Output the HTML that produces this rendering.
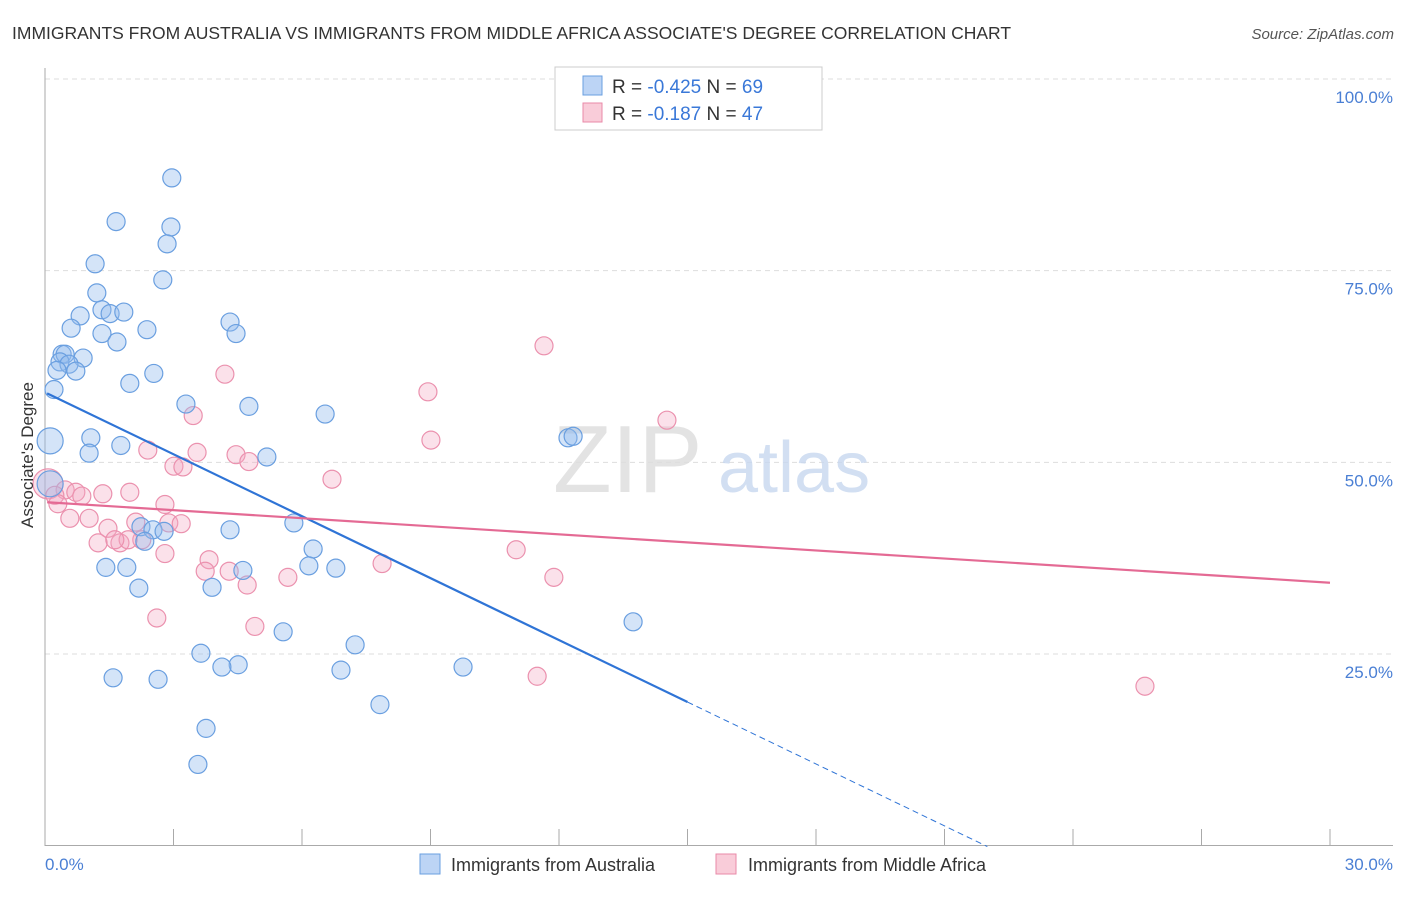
<!DOCTYPE html>
<html><head><meta charset="utf-8"><style>
body{margin:0;background:#fff;font-family:"Liberation Sans",sans-serif;}
svg text{font-family:"Liberation Sans",sans-serif;}
</style></head><body>
<svg id="chart" width="1406" height="892" xmlns="http://www.w3.org/2000/svg">
<text x="12" y="39" font-size="17.5" fill="#333">IMMIGRANTS FROM AUSTRALIA VS IMMIGRANTS FROM MIDDLE AFRICA ASSOCIATE'S DEGREE CORRELATION CHART</text>
<text x="1394" y="39" font-size="15" fill="#555" text-anchor="end" font-style="italic">Source: ZipAtlas.com</text>
<g id="grid"></g>
<text x="553" y="492" font-size="96" fill="#ddd" font-family="Liberation Serif" opacity="0.8">ZIP</text>
<text x="718" y="492" font-size="72" fill="#c8d8f0" opacity="0.8">atlas</text>
<g id="points"></g>
<g id="lines"></g>
<text transform="translate(33,455) rotate(-90)" font-size="17" fill="#333" text-anchor="middle">Associate's Degree</text>
<text x="45" y="870" font-size="17" fill="#4a7fd4">0.0%</text>
<text x="1393" y="870" font-size="17" fill="#4a7fd4" text-anchor="end">30.0%</text>
<g>
<rect x="555" y="67" width="267" height="63" fill="#fff" stroke="#ccc"/>
<rect x="583" y="76" width="19" height="19" fill="#bcd4f5" stroke="#6a9fe0"/>
<rect x="583" y="103" width="19" height="19" fill="#f9ccd9" stroke="#e98aa8"/>
<text x="612" y="93" font-size="19" fill="#333">R = <tspan fill="#3a78d8">-0.425</tspan>   N = <tspan fill="#3a78d8">69</tspan></text>
<text x="612" y="120" font-size="19" fill="#333">R =  <tspan fill="#3a78d8">-0.187</tspan>   N = <tspan fill="#3a78d8">47</tspan></text>
</g>
<g>
<rect x="420" y="854" width="20" height="20" fill="#bcd4f5" stroke="#6a9fe0"/>
<text x="451" y="871" font-size="18" fill="#333">Immigrants from Australia</text>
<rect x="716" y="854" width="20" height="20" fill="#f9ccd9" stroke="#e98aa8"/>
<text x="748" y="871" font-size="18" fill="#333">Immigrants from Middle Africa</text>
</g>
</svg>
<script>
const yTicks=[25,50,75,100];
const yTickLabels=["25.0%","50.0%","75.0%","100.0%"];
const xTicks=[0,3,6,9,12,15,18,21,24,27,30];
const blueX=[2.96,1.66,2.94,2.85,1.17,2.75,1.21,1.33,0.82,1.52,1.84,0.61,2.38,4.32,4.46,1.33,1.68,0.40,0.47,0.35,0.89,0.56,0.72,0.28,2.54,1.98,0.21,3.29,4.76,6.54,12.21,12.33,0.12,1.07,1.77,1.03,5.18,2.24,2.52,2.78,2.33,4.32,5.81,6.26,1.42,1.91,6.16,6.79,4.62,3.90,2.19,13.73,5.56,7.24,3.64,4.51,4.13,6.91,9.76,1.59,2.64,7.82,3.76,3.57,0.12];
const blueY=[87.1,81.4,80.7,78.5,75.9,73.8,72.1,69.9,69.1,69.4,69.6,67.5,67.3,68.3,66.8,66.8,65.7,64.1,64.1,63.1,63.6,62.8,61.9,62.0,61.6,60.3,59.5,57.6,57.3,56.3,53.2,53.4,52.8,53.2,52.2,51.2,50.7,41.6,41.2,41.0,39.7,41.2,42.1,38.7,36.3,36.3,36.5,36.2,35.9,33.7,33.6,29.2,27.9,26.2,25.1,23.6,23.3,22.9,23.3,21.9,21.7,18.4,15.3,10.6,47.2];
const blueBig=[32,64];
const pinkX=[11.65,4.20,8.94,3.46,9.01,14.52,2.40,3.55,4.46,4.76,3.01,3.22,6.70,0.07,0.47,0.23,0.72,0.86,1.35,1.98,0.30,1.03,0.58,1.47,2.12,2.89,3.18,2.26,1.24,1.75,1.94,1.63,2.80,3.83,3.74,4.30,4.72,5.67,7.87,11.00,11.88,2.61,4.90,11.49,25.68,2.80];
const pinkY=[65.2,61.5,59.2,56.1,52.9,55.5,51.6,51.3,51.0,50.1,49.5,49.4,47.8,47.2,46.4,45.7,46.1,45.6,45.9,46.1,44.6,42.7,42.7,41.4,42.2,42.1,42.0,39.9,39.5,39.5,39.9,39.9,38.1,37.3,35.8,35.8,34.0,35.0,36.8,38.6,35.0,29.7,28.6,22.1,20.8,44.5];
const pinkBig=[13];
const blueTrend=[0.05,59.0,15.0,18.74,22.0];
const pinkTrend=[0.05,44.8,30,34.3];
const NS="http://www.w3.org/2000/svg";
const X0=45,X1=1330,Y0=845.7,Y100=79;
function sx(v){return X0+(X1-X0)*v/30;}
function sy(v){return Y0-(Y0-Y100)*v/100;}
function mk(t,a,p){const e=document.createElementNS(NS,t);for(const k in a)e.setAttribute(k,a[k]);p.appendChild(e);return e;}
const grid=document.getElementById('grid');
yTicks.forEach((t,i)=>{
 const l=mk('line',{x1:45,x2:1393,y1:sy(t),y2:sy(t),stroke:'#ddd','stroke-dasharray':'5,4'},grid);
 
 
 const tx=mk('text',{x:1393,y:sy(t)+24,'font-size':17,fill:'#4a7fd4','text-anchor':'end'},grid);
 tx.textContent=yTickLabels[i];
 
 
});
const ax=mk('line',{x1:45,x2:45,y1:68,y2:846,stroke:'#aaa'},grid);


const bx=mk('line',{x1:45,x2:1393,y1:845.5,y2:845.5,stroke:'#aaa'},grid);


xTicks.forEach(t=>{
 const l=mk('line',{x1:sx(t),x2:sx(t),y1:829,y2:846,stroke:'#aaa'},grid);
 
 
});
const pts=document.getElementById('points');
pinkX.forEach((x,i)=>{
 const c=mk('circle',{cx:sx(x),cy:sy(pinkY[i]),r:pinkBig.includes(i)?15:9,fill:'rgba(244,170,195,0.35)',stroke:'#eb91ae','stroke-width':1.2},pts);
 
 
});
blueX.forEach((x,i)=>{
 const c=mk('circle',{cx:sx(x),cy:sy(blueY[i]),r:blueBig.includes(i)?13:9,fill:'rgba(147,187,237,0.4)',stroke:'#6a9fe0','stroke-width':1.2},pts);
 
 
});
const ln=document.getElementById('lines');
const slope=(blueTrend[3]-blueTrend[1])/(blueTrend[2]-blueTrend[0]);
const b1=mk('line',{x1:sx(blueTrend[0]),y1:sy(blueTrend[1]),x2:sx(blueTrend[2]),y2:sy(blueTrend[3]),stroke:'#2f74d6','stroke-width':2.2},ln);


const b2=mk('line',{x1:sx(blueTrend[2]),y1:sy(blueTrend[3]),x2:sx(blueTrend[4]),y2:sy(blueTrend[3]+slope*(blueTrend[4]-blueTrend[2])),stroke:'#2f74d6','stroke-width':1,'stroke-dasharray':'6,4'},ln);


const p1=mk('line',{x1:sx(pinkTrend[0]),y1:sy(pinkTrend[1]),x2:sx(pinkTrend[2]),y2:sy(pinkTrend[3]),stroke:'#e46a94','stroke-width':2.2},ln);


</script>
</body></html>
